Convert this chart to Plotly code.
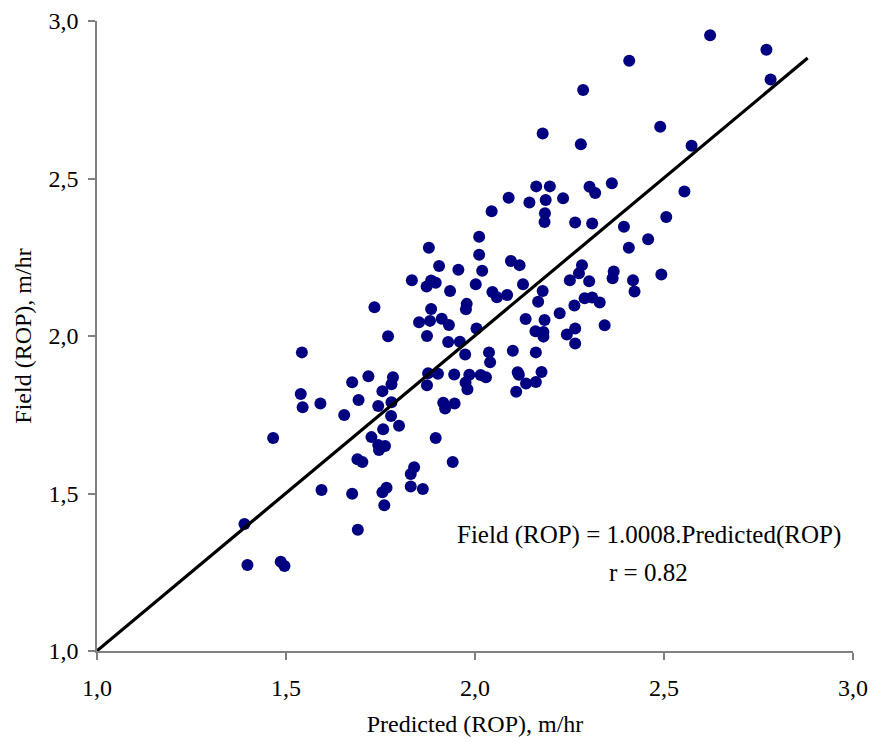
import plotly.graph_objects as go

predicted = [1.878, 1.905, 1.833, 1.884, 1.896, 1.872, 1.934, 1.734, 1.884, 1.852,
             1.881, 1.912, 1.931, 1.770, 1.873, 1.929, 1.542, 2.162, 2.198, 2.303,
             2.318, 2.362, 2.089, 2.144, 2.187, 2.233, 2.044, 2.185, 2.184, 2.265,
             2.310, 2.394, 2.458, 2.011, 2.407, 2.011, 2.095, 2.118, 1.956, 2.019,
             2.283, 2.275, 2.367, 2.364, 2.251, 2.302, 2.418, 2.422, 2.002, 2.046,
             2.058, 2.085, 2.127, 2.179, 2.167, 2.290, 2.310, 2.330, 2.263, 1.978,
             1.976, 2.004, 2.134, 2.184, 2.224, 2.343, 2.160, 2.181, 2.181, 2.243,
             2.265, 2.265, 1.960, 1.974, 2.037, 2.100, 2.161, 1.718, 1.675, 1.783,
             1.779, 1.755, 1.876, 1.902, 1.873, 1.539, 1.544, 1.591, 1.692, 1.744,
             1.779, 1.916, 1.921, 1.654, 1.778, 1.799, 1.757, 1.726, 1.466, 1.896,
             1.744, 1.762, 1.746, 1.941, 1.689, 1.702, 1.839, 1.830, 1.594, 1.675,
             1.766, 1.755, 1.830, 1.862, 1.760, 1.390, 1.690, 1.945, 1.985, 1.975,
             1.980, 2.015, 2.029, 2.113, 2.116, 2.176, 2.135, 2.161, 2.109, 1.946,
             2.040, 2.622, 2.771, 2.782, 2.408, 2.286, 2.490, 2.280, 2.573, 2.554,
             2.506, 2.493, 2.179, 1.398, 1.486, 1.496]

field = [2.280, 2.222, 2.177, 2.176, 2.169, 2.157, 2.143, 2.091, 2.086, 2.044,
         2.048, 2.055, 2.035, 1.999, 2.000, 1.981, 1.948, 2.475, 2.475, 2.474,
         2.454, 2.485, 2.439, 2.424, 2.432, 2.437, 2.396, 2.390, 2.362, 2.360,
         2.357, 2.347, 2.307, 2.315, 2.280, 2.258, 2.238, 2.225, 2.210, 2.207,
         2.225, 2.199, 2.205, 2.183, 2.177, 2.174, 2.177, 2.141, 2.164, 2.140,
         2.123, 2.130, 2.164, 2.143, 2.109, 2.120, 2.122, 2.106, 2.097, 2.102,
         2.085, 2.024, 2.054, 2.051, 2.072, 2.034, 2.015, 2.013, 1.998, 2.005,
         2.024, 1.976, 1.982, 1.941, 1.948, 1.953, 1.948, 1.872, 1.853, 1.869,
         1.847, 1.825, 1.882, 1.880, 1.844, 1.816, 1.774, 1.786, 1.797, 1.778,
         1.790, 1.788, 1.770, 1.749, 1.746, 1.715, 1.704, 1.679, 1.676, 1.676,
         1.654, 1.651, 1.638, 1.600, 1.609, 1.600, 1.583, 1.562, 1.511, 1.499,
         1.518, 1.504, 1.522, 1.514, 1.463, 1.403, 1.385, 1.878, 1.877, 1.852,
         1.831, 1.876, 1.869, 1.885, 1.877, 1.886, 1.849, 1.854, 1.823, 1.786,
         1.917, 2.955, 2.909, 2.814, 2.874, 2.781, 2.664, 2.609, 2.604, 2.459,
         2.378, 2.195, 2.643, 1.273, 1.283, 1.270]

fit_x = [1.0, 2.88]
fit_slope = 1.0008

tick_vals = [1.0, 1.5, 2.0, 2.5, 3.0]
tick_text = ["1,0", "1,5", "2,0", "2,5", "3,0"]

eq_text = "Field (ROP) = 1.0008.Predicted(ROP)"
r_text = "r = 0.82"

FONT = "Liberation Serif, Times New Roman, serif"
FS = 24

fig = go.Figure()
fig.add_trace(go.Scatter(
    x=predicted, y=field, mode="markers",
    marker=dict(color="#000080", size=12, line=dict(width=0)),
    showlegend=False, cliponaxis=False,
))
fig.add_trace(go.Scatter(
    x=fit_x, y=[v * fit_slope for v in fit_x], mode="lines",
    line=dict(color="black", width=3.2),
    showlegend=False,
))

axis_common = dict(
    range=[1.0, 3.0], tickvals=tick_vals, ticktext=tick_text,
    showgrid=False, zeroline=False, showline=True, automargin=False,
    linecolor="#808080", linewidth=1.5,
    ticks="outside", ticklen=7, tickwidth=1.5, tickcolor="#808080",
    tickfont=dict(family=FONT, size=FS, color="black"),
)

fig.update_layout(
    width=870, height=742,
    margin=dict(l=97, r=17, t=21, b=91),
    plot_bgcolor="white", paper_bgcolor="white",
    font=dict(family=FONT, size=FS, color="black"),
    xaxis=dict(**axis_common, ticklabelstandoff=7,
               title=dict(text="Predicted (ROP), m/hr", font=dict(family=FONT, size=FS), standoff=16)),
    yaxis=dict(**axis_common, ticklabelstandoff=5,
               title=dict(text="Field (ROP), m/hr", font=dict(family=FONT, size=FS), standoff=10)),
    annotations=[
        dict(x=2.46, y=1.368, xref="x", yref="y", text=eq_text, showarrow=False,
             font=dict(family=FONT, size=25, color="black"), xanchor="center", yanchor="middle"),
        dict(x=2.46, y=1.248, xref="x", yref="y", text=r_text, showarrow=False,
             font=dict(family=FONT, size=25, color="black"), xanchor="center", yanchor="middle"),
    ],
)

fig.write_html("out.html", config={"displayModeBar": False},
               post_script="document.body.style.margin='0';")
